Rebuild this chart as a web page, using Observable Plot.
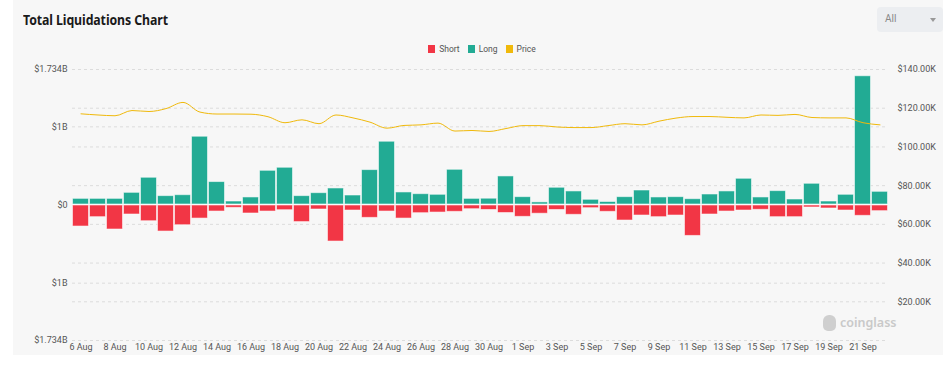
<!DOCTYPE html>
<html>
<head>
<meta charset="utf-8">
<script src="https://cdn.jsdelivr.net/npm/d3@7"></script>
<script src="https://cdn.jsdelivr.net/npm/@observablehq/plot@0.6"></script>
<style>
  html, body { margin: 0; padding: 0; background: #ffffff; width: 952px; height: 369px; overflow: hidden; font-family: Roboto, "Noto Sans", sans-serif; }
  #card { position: absolute; left: 13px; top: 0; width: 930px; height: 355px; background: #f7f7f7; }
  #title { position: absolute; left: 23px; top: 10px; font-family: "Noto Sans", sans-serif; font-weight: 700; font-size: 14px; color: #1a1a1a; white-space: nowrap; transform-origin: left center; transform: scaleX(0.88); letter-spacing: -0.1px; }
  #dropdown { position: absolute; left: 877px; top: 7px; width: 66px; height: 25px; background: #eceef1; border-radius: 4px; }
  #dropdown .lbl { position: absolute; left: 8px; top: 6px; font-size: 10px; color: #888; }
  #dropdown .caret { position: absolute; left: 53px; top: 11px; width: 0; height: 0; border-left: 3px solid transparent; border-right: 3px solid transparent; border-top: 4px solid #999; }
  #legend { position: absolute; top: 44px; left: 0; width: 952px; display: flex; justify-content: center; gap: 8px; font-size: 8.5px; color: #555; padding-left: 12px; box-sizing: border-box; }
  #legend span { display: inline-flex; align-items: center; }
  #legend i { display: inline-block; width: 7px; height: 8px; margin-right: 4px; }
  #chart { position: absolute; left: 0; top: 60px; }
  #wm { position: absolute; left: 823px; top: 314px; display: flex; align-items: center; gap: 4px; color: #c9c9c9; font-family: "Noto Sans", sans-serif; font-weight: 600; font-size: 12.5px; }
  #wm .icon { width: 13px; height: 16px; background: #cfcfcf; border-radius: 6px 6px 5px 5px; }
</style>
</head>
<body>
<div id="card"></div>
<div id="title">Total Liquidations Chart</div>
<div id="dropdown"><span class="lbl">All</span><span class="caret"></span></div>
<div id="legend"></div>
<div id="chart"></div>
<div id="wm"><span class="icon"></span><span>coinglass</span></div>
<script>
// ---- Data ----
const dates = ["6 Aug","7 Aug","8 Aug","9 Aug","10 Aug","11 Aug","12 Aug","13 Aug","14 Aug","15 Aug","16 Aug","17 Aug","18 Aug","19 Aug","20 Aug","21 Aug","22 Aug","23 Aug","24 Aug","25 Aug","26 Aug","27 Aug","28 Aug","29 Aug","30 Aug","31 Aug","1 Sep","2 Sep","3 Sep","4 Sep","5 Sep","6 Sep","7 Sep","8 Sep","9 Sep","10 Sep","11 Sep","12 Sep","13 Sep","14 Sep","15 Sep","16 Sep","17 Sep","18 Sep","19 Sep","20 Sep","21 Sep","22 Sep"];
// Long liquidations, billions USD
const longVals = [0.085,0.085,0.085,0.162,0.355,0.12,0.132,0.88,0.30,0.051,0.103,0.444,0.483,0.12,0.158,0.218,0.128,0.453,0.816,0.167,0.145,0.137,0.457,0.085,0.087,0.372,0.107,0.04,0.227,0.18,0.073,0.045,0.107,0.192,0.103,0.107,0.081,0.141,0.18,0.342,0.103,0.184,0.077,0.278,0.051,0.137,1.654,0.175];
// Short liquidations, billions USD
const shortVals = [0.282,0.162,0.32,0.128,0.214,0.346,0.265,0.18,0.09,0.043,0.115,0.09,0.073,0.225,0.064,0.474,0.077,0.171,0.09,0.18,0.111,0.103,0.094,0.06,0.07,0.109,0.158,0.118,0.07,0.132,0.047,0.094,0.205,0.141,0.162,0.141,0.402,0.128,0.09,0.077,0.068,0.162,0.162,0.038,0.051,0.077,0.145,0.085];
// Price, thousands USD
const priceVals = [117.1,116.5,116.1,118.8,118.3,119.8,123.0,118.0,117.0,117.0,116.9,115.6,112.5,114.0,112.0,116.5,115.0,112.8,109.7,111.1,111.4,112.3,108.2,108.5,108.0,109.5,111.0,111.0,110.3,110.0,110.0,111.0,112.0,111.4,113.3,114.9,115.7,115.7,115.3,115.0,116.5,116.3,116.8,115.2,115.0,115.0,112.5,111.4];

const leftTicks = [-1.734, -1, 0, 1, 1.734];
const leftLabels = ["$1.734B", "$1B", "$0", "$1B", "$1.734B"];
const priceTicks = [20, 40, 60, 80, 100, 120, 140];
const priceLabels = ["$20.00K","$40.00K","$60.00K","$80.00K","$100.00K","$120.00K","$140.00K"];

const series = ["Short", "Long", "Price"];
const colors = ["#f23645", "#22ab94", "#f0b90b"];

// ---- Build ----
const yMax = 1.734;
const priceMax = 140;
const priceToY = p => -yMax + (p / priceMax) * 2 * yMax;

const rows = dates.map((d, i) => ({i, date: d, long: longVals[i], short: shortVals[i], price: priceVals[i]}));

const leftMap = new Map(leftTicks.map((v, k) => [v, leftLabels[k]]));
const rightVals = priceTicks.map(priceToY);
const rightMap = new Map(rightVals.map((v, k) => [v, priceLabels[k]]));
const gridVals = Array.from(new Set([...leftTicks, ...rightVals])).filter(v => v !== 0);

const xTickIdx = dates.map((d, i) => i).filter(i => i % 2 === 0);
const xTickPos = xTickIdx.map(i => i + 0.5);
const xMap = new Map(xTickIdx.map(i => [i + 0.5, dates[i]]));

const legend = document.getElementById("legend");
series.forEach((s, k) => {
  const sp = document.createElement("span");
  sp.innerHTML = `<i style="background:${colors[k]}"></i>${s}`;
  legend.appendChild(sp);
});

const chart = Plot.plot({
  width: 952,
  height: 300,
  marginLeft: 72,
  marginRight: 64,
  marginTop: 9,
  marginBottom: 20,
  style: {background: "transparent", fontFamily: "Roboto, 'Noto Sans', sans-serif", fontSize: "9px", color: "#5a5a5a"},
  x: {type: "linear", domain: [0, dates.length], axis: null, label: null},
  y: {domain: [-yMax, yMax], axis: null, label: null},
  marks: [
    Plot.ruleY(gridVals, {stroke: "#dcdcdc", strokeDasharray: "3,3", strokeWidth: 1}),
    Plot.rectY(rows, {x1: "i", x2: d => d.i + 1, y1: 0, y2: "long", fill: colors[1], stroke: "#ffffff", strokeOpacity: 0.55, strokeWidth: 1, inset: 0.5}),
    Plot.rectY(rows, {x1: "i", x2: d => d.i + 1, y1: 0, y2: d => -d.short, fill: colors[0], stroke: "#ffffff", strokeOpacity: 0.55, strokeWidth: 1, inset: 0.5}),
    Plot.line(rows, {x: d => d.i + 0.5, y: d => priceToY(d.price), stroke: colors[2], strokeWidth: 1, curve: "monotone-x"}),
    Plot.axisY(leftTicks, {anchor: "left", label: null, tickSize: 0, tickPadding: 5, tickFormat: v => leftMap.get(v), fill: "#555"}),
    Plot.axisY(rightVals, {anchor: "right", label: null, tickSize: 0, tickPadding: 9, tickFormat: v => rightMap.get(v), fill: "#555"}),
    Plot.axisX(xTickPos, {anchor: "bottom", label: null, tickSize: 0, tickPadding: 3, tickFormat: v => xMap.get(v), fill: "#555"})
  ]
});
document.getElementById("chart").appendChild(chart);
</script>
</body>
</html>
